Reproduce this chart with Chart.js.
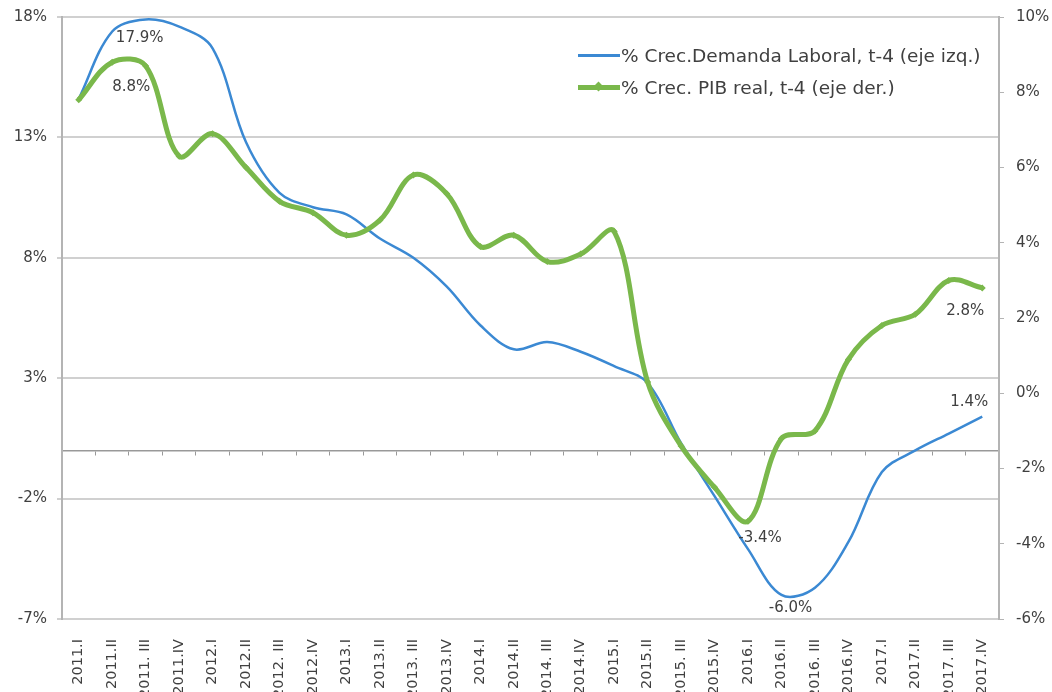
<!DOCTYPE html>
<html>
<head>
<meta charset="utf-8">
<script src="https://cdn.jsdelivr.net/npm/chart.js@4"></script>
<style>
  html, body { margin: 0; padding: 0; background: #fff; }
  #wrap { position: relative; width: 1052px; height: 692px; overflow: hidden; }
  #legend {
    position: absolute; left: 578px; top: 39px;
    font-family: "DejaVu Sans", sans-serif; font-size: 18.5px; color: #404040;
  }
  .item { display: flex; align-items: center; height: 32px; white-space: nowrap; }
  .swatch { width: 42px; position: relative; height: 10px; margin-right: 1px; }
  .swatch i { position: absolute; left: 0; right: 0; top: 50%; }
  .swatch b { position: absolute; left: 17px; top: 1px; width: 7px; height: 7px; transform: rotate(45deg); }
</style>
</head>
<body>
<div id="wrap">
  <canvas id="chart" width="1052" height="692"></canvas>
  <div id="legend"></div>
</div>
<script>
document.addEventListener("DOMContentLoaded", () => {

    // =====================
    // DATA
    // =====================
    const quarters = [
        "2011.I", "2011.II", "2011. III", "2011.IV",
        "2012.I", "2012.II", "2012. III", "2012.IV",
        "2013.I", "2013.II", "2013. III", "2013.IV",
        "2014.I", "2014.II", "2014. III", "2014.IV",
        "2015.I", "2015.II", "2015. III", "2015.IV",
        "2016.I", "2016.II", "2016. III", "2016.IV",
        "2017.I", "2017.II", "2017. III", "2017.IV"
    ];

    // % Crec. Demanda Laboral, t-4 (left axis)
    const demandaLaboral = [
        14.6, 17.4, 17.9, 17.6, 16.7, 12.8, 10.7, 10.1,
        9.8, 8.8, 8.0, 6.8, 5.2, 4.2, 4.5, 4.1,
        3.5, 2.8, 0.3, -1.9, -4.1, -6.0, -5.7, -3.8,
        -0.9, 0.0, 0.7, 1.4
    ];

    // % Crec. PIB real, t-4 (right axis)
    const pibReal = [
        7.8, 8.8, 8.7, 6.3, 6.9, 6.0, 5.1, 4.8,
        4.2, 4.6, 5.8, 5.3, 3.9, 4.2, 3.5, 3.7,
        4.3, 0.3, -1.4, -2.5, -3.4, -1.2, -1.0, 0.9,
        1.8, 2.1, 3.0, 2.8
    ];

    const leftTicks = { min: -7, max: 18, step: 5 };
    const rightTicks = { min: -6, max: 10, step: 2 };

    const seriesNames = [
        "% Crec.Demanda Laboral, t-4 (eje izq.)",
        "% Crec. PIB real, t-4 (eje der.)"
    ];

    // which points carry a value label: [dataset, index]
    const labelledPoints = [
        [0, 2], [1, 1], [1, 20], [0, 21], [0, 27], [1, 27]
    ];

    // =====================
    // STYLE
    // =====================
    const BLUE = "#3b89d3";
    const GREEN = "#7ab84b";
    const GRID = "#d0d0d0";
    const AXIS = "#b4b4b4";
    const TEXT = "#404040";
    const FONT = "'DejaVu Sans', sans-serif";

    // label offsets from the point (same order as labelledPoints)
    const labelOffsets = [
        [-6, 19], [19, 25], [12, 17], [9, 13], [-13, -15], [-17, 23]
    ];

    const pct = v => (v > 0 || v < 0 ? v.toFixed(1) : "0.0") + "%";

    const pointLabels = {
        id: "pointLabels",
        afterDatasetsDraw(chart) {
            const ctx = chart.ctx;
            ctx.save();
            ctx.font = "15px " + FONT;
            ctx.fillStyle = TEXT;
            ctx.textAlign = "center";
            ctx.textBaseline = "middle";
            labelledPoints.forEach(([ds, i], k) => {
                const el = chart.getDatasetMeta(ds).data[i];
                const v = chart.data.datasets[ds].data[i];
                ctx.fillText(pct(v), el.x + labelOffsets[k][0], el.y + labelOffsets[k][1]);
            });
            ctx.restore();
        }
    };

    // y axes: fixed width, no extra padding for the outer tick labels
    const fitY = width => s => {
        s.width = width;
        s.paddingTop = 0;
        s.paddingBottom = 0;
    };

    const ctx = document.getElementById("chart").getContext("2d");

    new Chart(ctx, {
        type: "line",
        data: {
            labels: quarters,
            datasets: [
                {
                    label: seriesNames[0],
                    data: demandaLaboral,
                    yAxisID: "y",
                    borderColor: BLUE,
                    borderWidth: 2.5,
                    pointRadius: 0,
                    tension: 0.35,
                    order: 2
                },
                {
                    label: seriesNames[1],
                    data: pibReal,
                    yAxisID: "y2",
                    borderColor: GREEN,
                    backgroundColor: GREEN,
                    borderWidth: 5,
                    pointStyle: "rectRot",
                    pointRadius: 3.5,
                    pointBorderWidth: 0,
                    tension: 0.35,
                    order: 1
                }
            ]
        },
        options: {
            responsive: false,
            animation: false,
            layout: { padding: { top: 17, left: 0, right: 0, bottom: 0 } },
            plugins: {
                legend: { display: false },
                tooltip: { enabled: false }
            },
            scales: {
                x: {
                    offset: true,
                    grid: { display: false },
                    border: { display: false },
                    ticks: {
                        color: TEXT,
                        font: { family: FONT, size: 14.5 },
                        minRotation: 90,
                        maxRotation: 90,
                        autoSkip: false,
                        padding: 12
                    },
                    afterFit: s => { s.height = 73; }
                },
                zero: {
                    axis: "x",
                    type: "category",
                    labels: quarters,
                    position: { y: 0 },
                    offset: true,
                    grid: { drawOnChartArea: false, drawTicks: true, tickLength: 4, color: "#999", offset: true },
                    border: { display: true, color: "#999", width: 1.5 },
                    ticks: { display: false }
                },
                y: {
                    position: "left",
                    min: leftTicks.min,
                    max: leftTicks.max,
                    ticks: {
                        stepSize: leftTicks.step,
                        color: TEXT,
                        font: { family: FONT, size: 15 },
                        padding: 10,
                        callback: v => v + "%"
                    },
                    grid: { color: GRID, lineWidth: 2, tickLength: 5 },
                    border: { display: true, color: AXIS, width: 2 },
                    afterFit: fitY(62)
                },
                y2: {
                    position: "right",
                    min: rightTicks.min,
                    max: rightTicks.max,
                    ticks: {
                        stepSize: rightTicks.step,
                        color: TEXT,
                        font: { family: FONT, size: 15 },
                        padding: 12,
                        callback: v => v + "%"
                    },
                    grid: { drawOnChartArea: false, color: AXIS, tickLength: 5 },
                    border: { display: true, color: AXIS, width: 2 },
                    afterFit: fitY(53)
                }
            }
        },
        plugins: [pointLabels]
    });

    // =====================
    // LEGEND (inside chart, top right)
    // =====================
    const legend = document.getElementById("legend");
    [[BLUE, 3, false], [GREEN, 5, true]].forEach(([color, w, marker], i) => {
        const row = document.createElement("div");
        row.className = "item";
        row.innerHTML = `
            <span class="swatch">
                <i style="background:${color};height:${w}px;margin-top:${-w / 2}px"></i>
                ${marker ? `<b style="background:${color}"></b>` : ""}
            </span>
            <span>${seriesNames[i]}</span>`;
        legend.appendChild(row);
    });
});
</script>
</body>
</html>
